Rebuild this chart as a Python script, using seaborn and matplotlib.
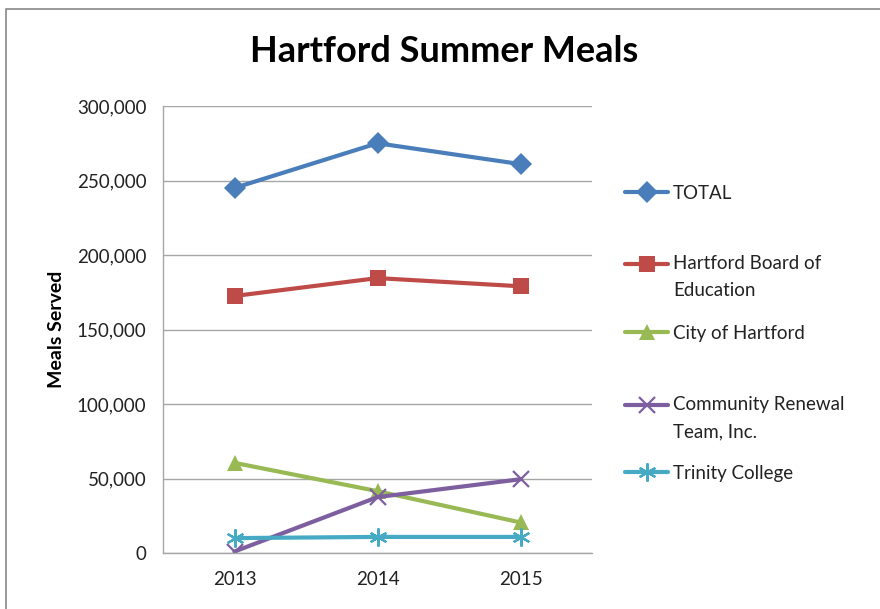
import matplotlib
matplotlib.use("Agg")
import matplotlib.pyplot as plt
import matplotlib.patches as mpatches
import pandas as pd
import seaborn as sns
from matplotlib.legend_handler import HandlerLine2D
from matplotlib.ticker import FuncFormatter
from matplotlib.transforms import Affine2D

years = ["2013", "2014", "2015"]
total = [245000, 275000, 261000]
board_of_ed = [172500, 184500, 179000]
city = [60500, 41500, 20500]
crt = [1000, 37500, 49500]
trinity = [10000, 10800, 10800]

series_names = [
    "TOTAL",
    "Hartford Board of\nEducation",
    "City of Hartford",
    "Community Renewal\nTeam, Inc.",
    "Trinity College",
]
series_values = [total, board_of_ed, city, crt, trinity]

colors = ["#4A7EBB", "#BE4B48", "#98B954", "#7D5FA0", "#46AAC5"]
markers = ["D", "s", "^", "x", (6, 2, 0)]
msizes = [11, 12, 12, 11, 13]


class RaisedLine(HandlerLine2D):
    """Legend handle nudged up so it lines up with the first text line."""

    def __init__(self, dy=0, **kw):
        super().__init__(**kw)
        self.dy = dy

    def create_artists(self, legend, orig_handle, xdescent, ydescent,
                       width, height, fontsize, trans):
        trans = Affine2D().translate(0, self.dy) + trans
        return super().create_artists(legend, orig_handle, xdescent, ydescent,
                                      width, height, fontsize, trans)


sns.set_theme(style="white")
plt.rcParams["font.family"] = ["Lato", "DejaVu Sans"]

rows = []
for name, vals in zip(series_names, series_values):
    for yr, v in zip(years, vals):
        rows.append({"year": yr, "series": name, "meals": v})
df = pd.DataFrame(rows)

fig = plt.figure(figsize=(8.8, 6.09), dpi=100)
ax = fig.add_axes([163 / 880, 1 - 553 / 609, 429 / 880, 447 / 609])

for name, color, mk, ms in zip(series_names, colors, markers, msizes):
    sub = df[df["series"] == name]
    line_marker = mk in ("x",) or isinstance(mk, tuple)
    sns.lineplot(data=sub, x="year", y="meals", ax=ax, color=color,
                 linewidth=3, marker=mk, markersize=ms,
                 markeredgecolor=color, markeredgewidth=1.6 if line_marker else 0,
                 label=name, sort=False)

ax.set_xlim(-0.5, 2.5)
ax.set_ylim(0, 300000)
ax.set_yticks(range(0, 300001, 50000))
ax.yaxis.set_major_formatter(FuncFormatter(lambda v, p: f"{int(v):,}"))
ax.grid(axis="y", color="#A6A6A6", linewidth=1)
ax.set_axisbelow(True)
for side in ["top", "right"]:
    ax.spines[side].set_visible(False)
for side in ["left", "bottom"]:
    ax.spines[side].set_color("#A6A6A6")
    ax.spines[side].set_linewidth(1)
ax.tick_params(axis="both", labelsize=13.5, colors="#222222", length=0)
ax.tick_params(axis="y", pad=12)
ax.tick_params(axis="x", pad=13)
ax.set_xlabel("")
ax.set_ylabel("Meals Served", fontsize=14, fontweight="bold", labelpad=8, color="black")

ax.get_legend().remove()
handles, labels = ax.get_legend_handles_labels()

# Excel spaces the legend entries on a fixed pitch, first line to first line
first_line_y = [192, 262, 332, 403, 472]
for h, lab, y in zip(handles, labels, first_line_y):
    two_lines = "\n" in lab
    leg = fig.legend([h], [lab], loc="upper left",
                     bbox_to_anchor=(625 / 880, 1 - (y - 7) / 609),
                     frameon=False, fontsize=13.5, handlelength=2.3,
                     handletextpad=0.25, borderpad=0, borderaxespad=0,
                     handler_map={h: RaisedLine(dy=10 if two_lines else 0)})
    for t in leg.get_texts():
        t.set_linespacing(1.75)
        t.set_color("#222222")

fig.suptitle("Hartford Summer Meals", fontsize=26, fontweight="bold", y=1 - 52 / 609,
             va="center", x=444 / 880, color="black")

frame = mpatches.Rectangle((6 / 880, -0.1), 1, 1 - 9 / 609 + 0.1, transform=fig.transFigure,
                           fill=False, edgecolor="#888888", linewidth=1.2)
fig.patches.append(frame)

fig.savefig("out.png", dpi=100)
